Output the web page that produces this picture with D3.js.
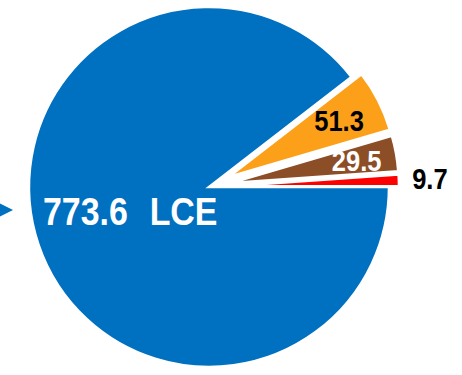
<!DOCTYPE html>
<html>
<head>
<meta charset="utf-8">
<script src="https://cdn.jsdelivr.net/npm/d3@7"></script>
<style>
  html, body { margin: 0; padding: 0; background: #ffffff; }
  svg { display: block; }
  .lbl { font-family: "Liberation Sans", Arial, sans-serif; font-weight: bold; }
</style>
</head>
<body>
<svg id="chart" width="462" height="375"></svg>
<script>
// Slice data, drawn counter-clockwise from 3 o'clock
const categories = ["LCE", "seg2", "seg3", "seg4"];
const values     = [773.6, 51.3, 29.5, 9.7];
const colors     = ["#0070C0", "#FCA01A", "#8C4E27", "#FF0000"];
const labelColors = ["#ffffff", "#000000", "#ffffff", "#000000"];
const unitLabel  = "LCE";

// Drawing order around the pie: smallest first, starting at 3 o'clock
const order = [3, 2, 1, 0];
const data = order.map(i => ({ key: categories[i], value: values[i], color: colors[i], text: labelColors[i], idx: i }));

const svg = d3.select("#chart");
const cx = 209, cy = 187;
const outerMain = 180;   // large slice
const outerSmall = 168;  // exploded slices
const explode = 22;
const condense = 0.88;   // narrow lettering

const pie = d3.pie()
  .sort(null)
  .value(d => d.value)
  .startAngle(Math.PI / 2)
  .endAngle(Math.PI / 2 - 2 * Math.PI);

const arcs = pie(data);

const g = svg.append("g").attr("transform", `translate(${cx},${cy})`);

function offset(d) {
  if (d.data.idx === 0) return [0, 0];
  const m = (d.startAngle + d.endAngle) / 2;
  return [Math.sin(m) * explode, -Math.cos(m) * explode];
}
function radius(d) { return d.data.idx === 0 ? outerMain : outerSmall; }

const arcGen = d3.arc().innerRadius(0);

g.selectAll("path.slice")
  .data(arcs)
  .join("path")
  .attr("class", "slice")
  .attr("transform", d => { const o = offset(d); return `translate(${o[0]},${o[1]})`; })
  .attr("d", d => arcGen.outerRadius(radius(d))(d))
  .attr("fill", d => d.data.color)
  .attr("stroke", "#ffffff")
  .attr("stroke-width", 2.5)
  .attr("stroke-linejoin", "miter");

// Value labels for the exploded slices (distance from the slice tip)
const labelRadius = { 1: 124, 2: 128, 3: 199 };
const labelShift  = { 1: [0, 0], 2: [0, 0], 3: [0, -1] };
const small = arcs.filter(d => d.data.idx !== 0);
g.selectAll("text.val")
  .data(small)
  .join("text")
  .attr("class", "lbl val")
  .attr("text-anchor", "middle")
  .attr("font-size", 29)
  .attr("fill", d => d.data.text)
  .attr("transform", d => {
    const o = offset(d), m = (d.startAngle + d.endAngle) / 2;
    const x = o[0] + Math.sin(m) * labelRadius[d.data.idx] + labelShift[d.data.idx][0];
    const y = o[1] - Math.cos(m) * labelRadius[d.data.idx] + labelShift[d.data.idx][1] + 10.5;
    return `translate(${x},${y}) scale(${condense},1)`;
  })
  .text(d => d3.format(".1f")(d.value));

// Main slice label
const mainArc = arcs.find(d => d.data.idx === 0);
const mainText = svg.append("text")
  .attr("class", "lbl")
  .attr("transform", `translate(43,225) scale(0.87,1)`)
  .attr("font-size", 39)
  .attr("fill", mainArc.data.text);
mainText.append("tspan").text(d3.format(".1f")(mainArc.value));
mainText.append("tspan").attr("dx", 25).text(unitLabel);

// Pointer triangle on the left edge
svg.append("path")
  .attr("d", d3.line()([[0, 203.5], [13, 210], [0, 216.5]]) + "Z")
  .attr("fill", colors[0]);
</script>
</body>
</html>
